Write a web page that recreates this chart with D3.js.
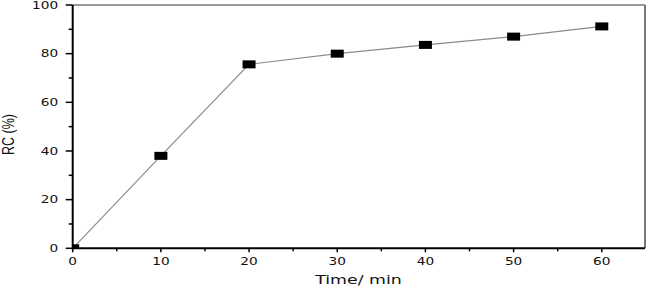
<!DOCTYPE html>
<html><head><meta charset="utf-8">
<script src="https://cdn.jsdelivr.net/npm/d3@7"></script>
<style>body{margin:0;background:#fff}svg{display:block}</style>
</head><body>
<script>
const times = [0, 10, 20, 30, 40, 50, 60];
const rc = [0, 38, 75.6, 80, 83.6, 87, 91.2];
const xTicks = [0, 10, 20, 30, 40, 50, 60];
const yTicks = [0, 20, 40, 60, 80, 100];
const xLabel = "Time/ min";
const yLabel = "RC (%)";

const W = 651, H = 290;
const m = {left: 72.7, right: 6, top: 5, bottom: 41.7};
const svg = d3.select("body").append("svg").attr("width", W).attr("height", H);
const x = d3.scaleLinear().domain([0, 64.9]).range([m.left, W - m.right]);
const y = d3.scaleLinear().domain([0, 100]).range([H - m.bottom, m.top]);
const SX = 1.37;

svg.append("clipPath").attr("id","clip").append("rect")
  .attr("x", x(0)).attr("y", y(100)).attr("width", x(64.9)-x(0)).attr("height", y(0)-y(100));

// frame top/right
svg.append("line").attr("x1", x(0)).attr("x2", x(64.9)).attr("y1", y(100)).attr("y2", y(100))
  .attr("stroke", "#777").attr("stroke-width", 1.5);
svg.append("line").attr("x1", x(64.9)).attr("x2", x(64.9)).attr("y1", y(100)).attr("y2", y(0))
  .attr("stroke", "#777").attr("stroke-width", 2);

// line and markers
const g = svg.append("g").attr("clip-path", "url(#clip)");
g.append("path").datum(times.map((t,i)=>[t, rc[i]]))
  .attr("d", d3.line().x(d=>x(d[0])).y(d=>y(d[1])))
  .attr("fill","none").attr("stroke","#8c8c8c").attr("stroke-width",1.2);
g.selectAll("rect.mk").data(times.map((t,i)=>[t, rc[i]])).join("rect").attr("class","mk")
  .attr("x", d=>x(d[0])-6.5).attr("y", d=>y(d[1])-4).attr("width",13).attr("height",8).attr("fill","#000");

// x axis
const xMinor = d3.range(5, 65, 10);
svg.selectAll("line.xm").data(xMinor).join("line").attr("class","xm")
  .attr("x1", d=>x(d)).attr("x2", d=>x(d)).attr("y1", y(0)).attr("y2", y(0)+3)
  .attr("stroke","#000").attr("stroke-width",1.5);
svg.selectAll("line.xM").data(xTicks).join("line").attr("class","xM")
  .attr("x1", d=>x(d)).attr("x2", d=>x(d)).attr("y1", y(0)).attr("y2", y(0)+4)
  .attr("stroke","#000").attr("stroke-width",1.5);
svg.selectAll("text.xl").data(xTicks).join("text").attr("class","xl")
  .attr("transform", d=>`translate(${x(d)},${y(0)+17}) scale(${SX},1)`)
  .attr("text-anchor","middle").attr("font-family","DejaVu Sans").attr("font-size",10)
  .attr("fill","#111").text(d=>d);

// y axis
const yMinor = d3.range(10, 100, 20);
svg.selectAll("line.ym").data(yMinor).join("line").attr("class","ym")
  .attr("x1", x(0)-4).attr("x2", x(0)).attr("y1", d=>y(d)).attr("y2", d=>y(d))
  .attr("stroke","#000").attr("stroke-width",1.5);
svg.selectAll("line.yM").data(yTicks).join("line").attr("class","yM")
  .attr("x1", x(0)-7).attr("x2", x(0)).attr("y1", d=>y(d)).attr("y2", d=>y(d))
  .attr("stroke","#000").attr("stroke-width",1.5);
svg.selectAll("text.yl").data(yTicks).join("text").attr("class","yl")
  .attr("transform", d=>`translate(${x(0)-14.5},${y(d)+3.6}) scale(${SX},1)`)
  .attr("text-anchor","end").attr("font-family","DejaVu Sans").attr("font-size",10)
  .attr("fill","#111").text(d=>d);

// axis lines
svg.append("line").attr("x1", x(0)).attr("x2", x(64.9)).attr("y1", y(0)).attr("y2", y(0))
  .attr("stroke","#000").attr("stroke-width",2);
svg.append("line").attr("x1", x(0)).attr("x2", x(0)).attr("y1", y(100)).attr("y2", y(0)+1)
  .attr("stroke","#000").attr("stroke-width",2);

// labels
svg.append("text").attr("transform", `translate(358.5,284) scale(${1.45},1)`)
  .attr("text-anchor","middle").attr("font-family","DejaVu Sans").attr("font-size",12)
  .attr("fill","#111").text(xLabel);
svg.append("text").attr("transform", `translate(14,134.5) scale(1.25,1) rotate(-90)`)
  .attr("text-anchor","middle").attr("font-family","Liberation Sans").attr("font-size",12.5)
  .attr("fill","#111").text(yLabel);
</script>
</body></html>
